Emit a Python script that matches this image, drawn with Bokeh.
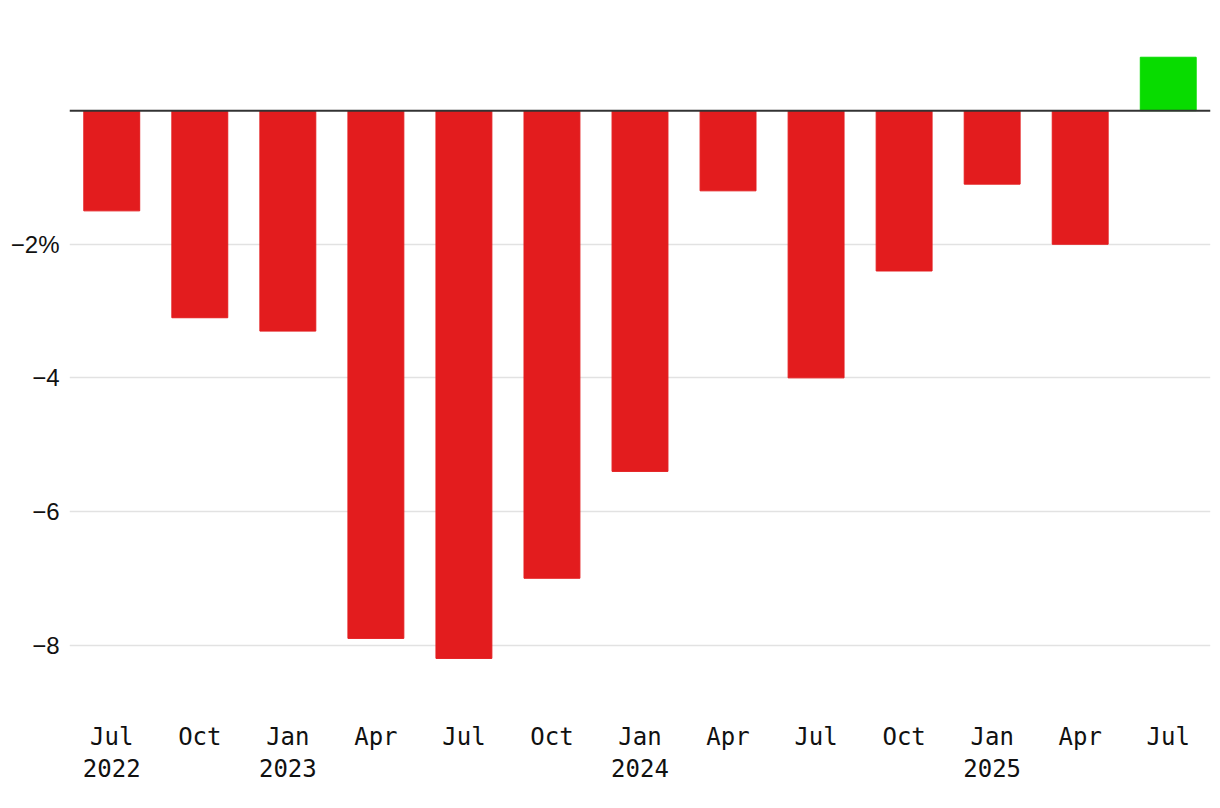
from bokeh.plotting import figure
from bokeh.models import ColumnDataSource, FixedTicker, Span, Range1d
from bokeh.embed import file_html
from bokeh.resources import INLINE

months = ["Jul", "Oct", "Jan", "Apr", "Jul", "Oct", "Jan", "Apr", "Jul", "Oct", "Jan", "Apr", "Jul"]
years = ["2022", "", "2023", "", "", "", "2024", "", "", "", "2025", "", ""]
values = [-1.5, -3.1, -3.3, -7.9, -8.2, -7.0, -5.4, -1.2, -4.0, -2.4, -1.1, -2.0, 0.8]
y_ticks = [-8, -6, -4, -2]
y_labels = ["\u22128", "\u22126", "\u22124", "\u22122%"]

RED = "#e31c1e"
GREEN = "#08dc00"

xs = list(range(len(values)))
colors = [GREEN if v > 0 else RED for v in values]
src = ColumnDataSource(dict(x=xs, top=values, color=colors))

p = figure(width=1212, height=800, output_backend="svg", toolbar_location=None,
           x_range=Range1d(-0.48, len(values) - 0.52), y_range=Range1d(-8.83, 1.35),
           min_border_left=69, min_border_right=2, min_border_top=20, min_border_bottom=100)
p.outline_line_color = None
p.background_fill_color = "white"

p.vbar(x="x", top="top", bottom=0, width=0.635, color="color", source=src)

p.add_layout(Span(location=0, dimension="width", line_color="#333333", line_width=2))

# y axis
p.yaxis.ticker = FixedTicker(ticks=y_ticks)
p.yaxis.major_label_overrides = {t: l for t, l in zip(y_ticks, y_labels)}
p.yaxis.axis_line_color = None
p.yaxis.major_tick_line_color = None
p.yaxis.minor_tick_line_color = None
p.yaxis.major_label_text_font = "Liberation Sans"
p.yaxis.major_label_text_font_size = "24px"
p.yaxis.major_label_text_color = "#111111"
p.yaxis.major_label_standoff = 4

p.ygrid.ticker = FixedTicker(ticks=y_ticks)
p.ygrid.grid_line_color = "#e2e2e2"
p.ygrid.grid_line_width = 1.5
p.xgrid.grid_line_color = None

# x axis
p.xaxis.ticker = FixedTicker(ticks=xs)
p.xaxis.major_label_overrides = {x: (m + ("\n" + y if y else "")) for x, m, y in zip(xs, months, years)}
p.xaxis.axis_line_color = None
p.xaxis.major_tick_line_color = None
p.xaxis.minor_tick_line_color = None
p.xaxis.major_label_text_font = "DejaVu Sans Mono"
p.xaxis.major_label_text_font_size = "24px"
p.xaxis.major_label_text_line_height = 1.15
p.xaxis.major_label_text_color = "#111111"
p.xaxis.major_label_standoff = 16

open("out.html", "w").write(file_html(p, INLINE))
